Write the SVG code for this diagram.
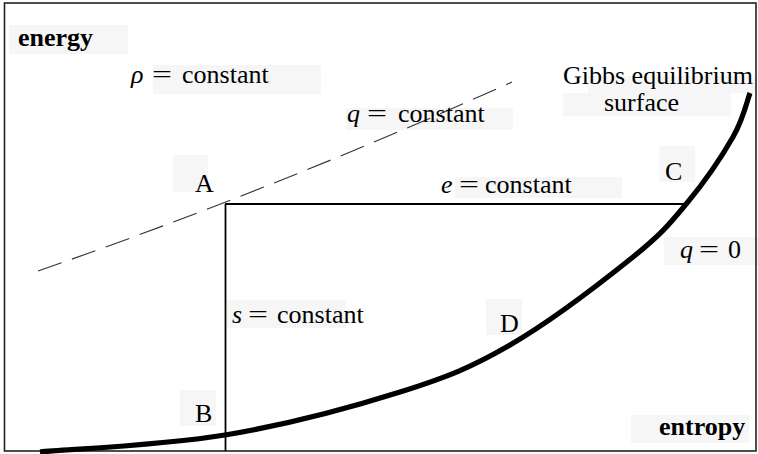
<svg xmlns="http://www.w3.org/2000/svg" width="758" height="454" viewBox="0 0 758 454">
<style>
.t{font-family:"Liberation Serif","Times New Roman","DejaVu Serif",serif;font-size:26px;fill:#000}
.b{font-weight:bold}
.i{font-style:italic}
.bg{fill:#f6f6f6}
.ln{fill:none;stroke:#000;stroke-width:1.8}
</style>
<rect x="0" y="0" width="758" height="454" fill="#fff"/>
<g id="labels-bg">
<rect class="bg" x="9" y="25" width="119" height="29"/>
<rect class="bg" x="153" y="65" width="168" height="29"/>
<rect class="bg" x="346" y="108" width="167" height="22"/>
<rect class="bg" x="588" y="76" width="167" height="17"/>
<rect class="bg" x="563" y="93" width="168" height="23"/>
<rect class="bg" x="659" y="146" width="36" height="36"/>
<rect class="bg" x="455" y="177" width="167" height="21"/>
<rect class="bg" x="173" y="155" width="35" height="37"/>
<rect class="bg" x="227" y="300" width="119" height="28"/>
<rect class="bg" x="180" y="390" width="36" height="36"/>
<rect class="bg" x="486" y="299" width="36" height="36"/>
<rect class="bg" x="664" y="237" width="94" height="28"/>
<rect class="bg" x="631" y="415" width="118" height="28"/>
</g>
<rect x="4.5" y="3" width="751.5" height="448" fill="none" stroke="#222" stroke-width="1.6"/>
<g id="connectors">
<path id="q-constant-line" d="M38,271 Q275,188.7 512,82" fill="none" stroke="#333" stroke-width="1.1" stroke-dasharray="25,11"/>
<path id="e-constant-line" class="ln" d="M225,204 H686"/>
<path id="s-constant-line" class="ln" d="M225.5,204 V451"/>
<path id="gibbs-surface" d="M40,452 C70.8,449.2 165,445 225,435 C285,425 352.5,407 400,392 C447.5,377 471.2,367.5 510,345 C548.8,322.5 603.5,280.7 633,257 C662.5,233.3 670.3,223 687,203 C703.7,183 722.5,155.3 733,137 C743.5,118.7 747.2,100.3 750,93" fill="none" stroke="#000" stroke-width="5.2"/>
</g>
<g id="energy"><text class="t b" x="18" y="46">energy</text></g>
<g id="rho-constant"><text class="t i" x="131" y="83">ρ</text><text class="t" x="152" y="83" textLength="20" lengthAdjust="spacingAndGlyphs">=</text><text class="t" x="182" y="83">constant</text></g>
<g id="q-constant"><text class="t i" x="347" y="122">q</text><text class="t" x="367" y="122" textLength="20" lengthAdjust="spacingAndGlyphs">=</text><text class="t" x="398" y="122">constant</text></g>
<g id="gibbs"><text class="t" x="563" y="84">Gibbs equilibrium</text><text class="t" x="604" y="111">surface</text></g>
<g id="C"><text class="t" x="665" y="180">C</text></g>
<g id="e-constant"><text class="t i" x="441" y="193">e</text><text class="t" x="459" y="193" textLength="20" lengthAdjust="spacingAndGlyphs">=</text><text class="t" x="485" y="193">constant</text></g>
<g id="A"><text class="t" x="195" y="192">A</text></g>
<g id="s-constant"><text class="t i" x="232" y="323">s</text><text class="t" x="248" y="323" textLength="20" lengthAdjust="spacingAndGlyphs">=</text><text class="t" x="277" y="323">constant</text></g>
<g id="B"><text class="t" x="195" y="422">B</text></g>
<g id="D"><text class="t" x="500" y="332">D</text></g>
<g id="q-zero"><text class="t i" x="680" y="258">q</text><text class="t" x="699" y="258" textLength="20" lengthAdjust="spacingAndGlyphs">=</text><text class="t" x="728" y="258">0</text></g>
<g id="entropy"><text class="t b" x="659" y="435">entropy</text></g>
</svg>
